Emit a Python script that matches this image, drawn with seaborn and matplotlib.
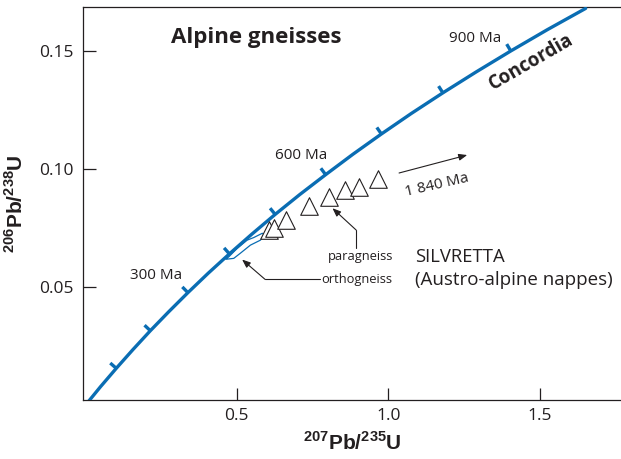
import numpy as np
import pandas as pd
import matplotlib
matplotlib.use("Agg")
import matplotlib.pyplot as plt
import seaborn as sns

# Concordia, every 50 Ma (0 - 1000 Ma)
age_ma = [0, 50, 100, 150, 200, 250, 300, 350, 400, 450, 500,
          550, 600, 650, 700, 750, 800, 850, 900, 950, 1000]
conc_x = [0.0, 0.0497, 0.1019, 0.1568, 0.2144, 0.2750, 0.3385, 0.4054, 0.4756, 0.5493, 0.6268,
          0.7081, 0.7935, 0.8833, 0.9776, 1.0767, 1.1807, 1.2901, 1.4049, 1.5256, 1.6522]
conc_y = [0.0, 0.0078, 0.0156, 0.0235, 0.0315, 0.0395, 0.0476, 0.0558, 0.0640, 0.0723, 0.0807,
          0.0891, 0.0975, 0.1061, 0.1147, 0.1234, 0.1321, 0.1409, 0.1498, 0.1588, 0.1678]
tick_ages = [100, 200, 300, 400, 500, 600, 700, 800, 900]

# Silvretta zircon fractions (open triangles)
tri_x = [0.607, 0.623, 0.662, 0.738, 0.806, 0.859, 0.903, 0.966]
tri_y = [0.0742, 0.0749, 0.0783, 0.0844, 0.0882, 0.0910, 0.0924, 0.0956]

# orthogneiss field outline
ortho_x = [0.463, 0.490, 0.512, 0.545, 0.578, 0.592, 0.584, 0.556, 0.534, 0.501, 0.474, 0.463]
ortho_y = [0.0617, 0.0621, 0.0643, 0.0677, 0.0698, 0.0720, 0.0727, 0.0709, 0.0698, 0.0663, 0.0628, 0.0617]

df = pd.DataFrame({"x": conc_x, "y": conc_y, "age": age_ma})
pts = pd.DataFrame({"x": tri_x, "y": tri_y})

sns.set_theme(style="ticks")
plt.rcParams["font.family"] = ["Open Sans", "DejaVu Sans"]
plt.rcParams["mathtext.fontset"] = "custom"
plt.rcParams["mathtext.rm"] = "Liberation Sans"
plt.rcParams["mathtext.bf"] = "Liberation Sans:bold"

blue = "#0a6db3"
ink = "#231f20"

fig = plt.figure(figsize=(6.21, 4.59), dpi=100)
ax = fig.add_axes([83 / 621, 1 - 400 / 459, 1 - 83 / 621, 393 / 459])
ax.set_xlim(-0.008, 1.769)
ax.set_ylim(0.0022, 0.1684)

ax.fill(ortho_x, ortho_y, facecolor="white", edgecolor=blue, lw=0.9, zorder=2)
sns.lineplot(data=df, x="x", y="y", sort=False, estimator=None, color=blue, lw=2.4, ax=ax, zorder=3)

# small age ticks on the upper-left side of the curve
disp = ax.transData.transform(np.column_stack([conc_x, conc_y]))
for a in tick_ages:
    i = age_ma.index(a)
    t = disp[i + 1] - disp[i - 1]
    t = t / np.hypot(*t)
    n = np.array([-t[1], t[0]])
    seg = ax.transData.inverted().transform([disp[i], disp[i] + n * 8])
    ax.plot(seg[:, 0], seg[:, 1], color=blue, lw=2.4, solid_capstyle="butt", zorder=3)

sns.scatterplot(data=pts, x="x", y="y", marker="^", s=160, facecolor="white",
                edgecolor=ink, linewidth=0.8, ax=ax, zorder=4)

# texts
ax.text(0.565, 0.1553, "Alpine gneisses", fontsize=16, fontweight="bold", color=ink,
        ha="center", va="center")
ax.text(1.287, 0.1552, "900 Ma", fontsize=11, color=ink, ha="center", va="center")
ax.text(0.714, 0.1054, "600 Ma", fontsize=11, color=ink, ha="center", va="center")
ax.text(0.233, 0.0547, "300 Ma", fontsize=11, color=ink, ha="center", va="center")
ax.text(1.472, 0.1451, "Concordia", fontsize=13.5, fontweight="bold", color=ink,
        ha="center", va="center", rotation=30)
ax.text(1.089, 0.0626, "SILVRETTA", fontsize=13.3, color=ink, ha="left", va="center")
ax.text(1.089, 0.0529, "(Austro-alpine nappes)", fontsize=13.5, color=ink, ha="left", va="center")
ax.text(1.160, 0.0931, "1 840 Ma", fontsize=11, color=ink, ha="center", va="center", rotation=13)

arrow = dict(arrowstyle="-|>,head_length=0.5,head_width=0.2", color=ink, lw=0.8,
             shrinkA=0, shrinkB=0, mutation_scale=10)
ax.annotate("", xy=(1.261, 0.1058), xytext=(1.036, 0.0982), arrowprops=arrow)

# paragneiss pointer
ax.plot([0.894, 0.894], [0.0741, 0.0665], color=ink, lw=0.8)
ax.annotate("", xy=(0.816, 0.0833), xytext=(0.894, 0.0741), arrowprops=arrow)
ax.text(0.910, 0.0628, "paragneiss", fontsize=9.3, color=ink, ha="center", va="center")

# orthogneiss pointer
ax.plot([0.5935, 0.775], [0.0532, 0.0532], color=ink, lw=0.8)
ax.annotate("", xy=(0.5175, 0.0616), xytext=(0.5935, 0.0532), arrowprops=arrow)
ax.text(0.780, 0.0532, "orthogneiss", fontsize=9.3, color=ink, ha="left", va="center")

ax.set_xticks([0.5, 1.0, 1.5])
ax.set_xticklabels(["0.5", "1.0", "1.5"])
ax.set_yticks([0.05, 0.10, 0.15])
ax.set_yticklabels(["0.05", "0.10", "0.15"])
ax.tick_params(direction="in", length=9, width=0.9, labelsize=12.5, colors=ink)
ax.tick_params(axis="y", pad=7)
ax.tick_params(axis="x", pad=6)
ax.spines["right"].set_visible(False)
for s in ["left", "bottom", "top"]:
    ax.spines[s].set_color(ink)
    ax.spines[s].set_linewidth(0.9)

ax.set_xlabel(r"$^{\mathbf{207}}\mathbf{Pb/}^{\mathbf{235}}\mathbf{U}$", fontsize=15, color=ink, labelpad=6)
ax.set_ylabel(r"$^{\mathbf{206}}\mathbf{Pb/}^{\mathbf{238}}\mathbf{U}$", fontsize=15, color=ink, labelpad=8)

fig.savefig("out.png", dpi=100)
